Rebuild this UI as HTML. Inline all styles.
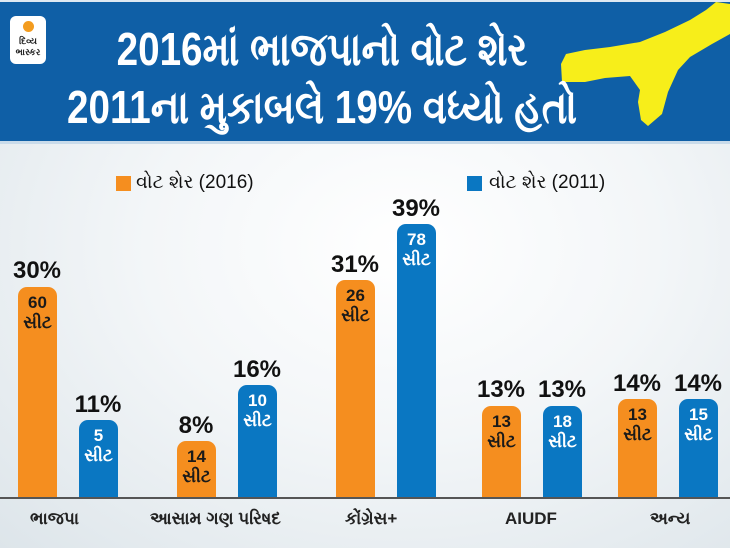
<!DOCTYPE html>
<html><head><meta charset="utf-8"><style>
*{margin:0;padding:0;box-sizing:border-box}
body{width:730px;height:548px;position:relative;overflow:hidden;font-family:"Liberation Sans","DejaVu Sans",sans-serif;background:radial-gradient(ellipse at 55% 45%,#ffffff 0%,#f3f6f8 45%,#dde5ea 100%)}
.hdr{position:absolute;left:0;top:0;width:730px;height:144px;background:#0f5fa6;border-top:2px solid #dfe9f2;border-bottom:3px solid #c9dbea;overflow:hidden}
.t{position:absolute;left:322px;color:#fff;font-weight:bold;font-size:46px;white-space:nowrap;transform:translateX(-50%) scaleX(0.84)}
.logo{position:absolute;left:10px;top:14px;width:36px;height:48px;background:#fff;border-radius:6px}
.logo i{position:absolute;left:13px;top:5px;width:11px;height:11px;border-radius:50%;background:#f39c1f}
.logo b{position:absolute;left:2px;top:20px;width:32px;font-size:9px;text-align:center;color:#222;line-height:11px}
.bar{position:absolute;width:39px;border-radius:9px 9px 0 0;text-align:center;font-weight:bold;font-size:17px;line-height:20px;padding-top:6px}
.o{background:#f58e1f;color:#1a1a1a}
.b{background:#0a77c2;color:#fff}
.p{position:absolute;font-weight:bold;font-size:24px;color:#111;width:70px;text-align:center}
.c{position:absolute;top:509px;font-weight:bold;font-size:17px;color:#222;text-align:center;white-space:nowrap}
.ax{position:absolute;left:0;top:497px;width:730px;height:2px;background:#555}
.lg{position:absolute;top:172px;font-size:19px;color:#111;white-space:nowrap}
.sq{position:absolute;top:176px;width:15px;height:15px}
</style></head><body>
<div class="hdr">
<div class="logo"><i></i><b>દિવ્ય ભાસ્કર</b></div>
<svg style="position:absolute;left:0;top:0" width="730" height="144"><path d="M716 0 L730 2 L730 32 L712 42 L690 55 L678 68 L668 90 L662 112 L648 124 L641 118 L638 100 L640 88 L630 74 L605 76 L585 80 L562 80 L561 62 L566 52 L585 48 L610 45 L640 40 L665 30 L690 18 L706 8 Z" fill="#f7ee1a"/></svg>
<div class="t" style="top:20px">2016માં ભાજપાનો વોટ શેર</div>
<div class="t" style="top:78px">2011ના મુકાબલે 19% વધ્યો હતો</div>
</div>
<div class="sq" style="left:116px;background:#f58e1f"></div><div class="lg" style="left:136px">વોટ શેર (2016)</div>
<div class="sq" style="left:467px;background:#0a77c2"></div><div class="lg" style="left:489px">વોટ શેર (2011)</div>

<div class="p" style="left:2px;top:257px">30%</div><div class="bar o" style="left:18px;top:287px;height:210px">60<br>સીટ</div>
<div class="p" style="left:63px;top:391px">11%</div><div class="bar b" style="left:79px;top:420px;height:77px">5<br>સીટ</div>
<div class="p" style="left:161px;top:412px">8%</div><div class="bar o" style="left:177px;top:441px;height:56px">14<br>સીટ</div>
<div class="p" style="left:222px;top:356px">16%</div><div class="bar b" style="left:238px;top:385px;height:112px">10<br>સીટ</div>
<div class="p" style="left:320px;top:251px">31%</div><div class="bar o" style="left:336px;top:280px;height:217px">26<br>સીટ</div>
<div class="p" style="left:381px;top:195px">39%</div><div class="bar b" style="left:397px;top:224px;height:273px">78<br>સીટ</div>
<div class="p" style="left:466px;top:376px">13%</div><div class="bar o" style="left:482px;top:406px;height:91px">13<br>સીટ</div>
<div class="p" style="left:527px;top:376px">13%</div><div class="bar b" style="left:543px;top:406px;height:91px">18<br>સીટ</div>
<div class="p" style="left:602px;top:370px">14%</div><div class="bar o" style="left:618px;top:399px;height:98px">13<br>સીટ</div>
<div class="p" style="left:663px;top:370px">14%</div><div class="bar b" style="left:679px;top:399px;height:98px">15<br>સીટ</div>
<div class="ax"></div>
<div class="c" style="left:30px">ભાજપા</div>
<div class="c" style="left:150px">આસામ ગણ પરિષદ</div>
<div class="c" style="left:345px">કોંગ્રેસ+</div>
<div class="c" style="left:505px">AIUDF</div>
<div class="c" style="left:650px">અન્ય</div>
</body></html>
